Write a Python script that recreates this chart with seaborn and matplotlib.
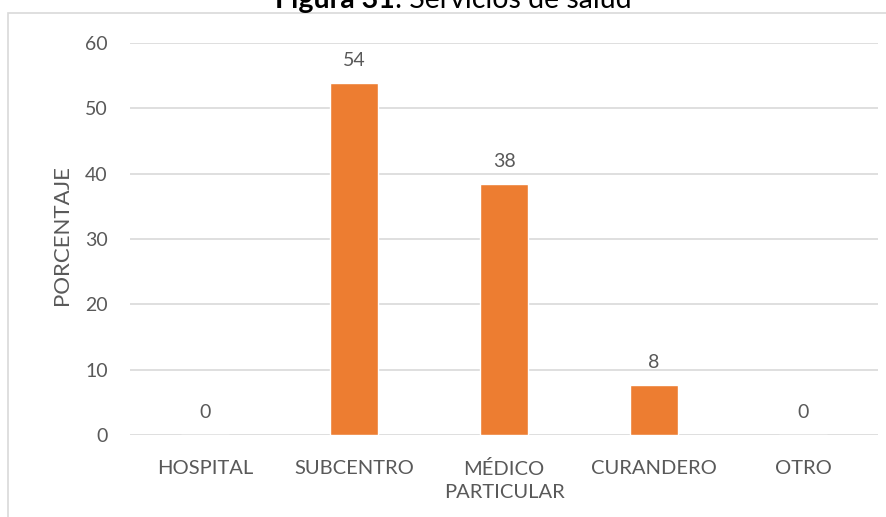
import matplotlib
matplotlib.use("Agg")
import matplotlib.pyplot as plt
from matplotlib.patches import Rectangle
import seaborn as sns
import pandas as pd

# Servicios de salud utilizados (porcentaje)
categorias = ["HOSPITAL", "SUBCENTRO", "MÉDICO\nPARTICULAR", "CURANDERO", "OTRO"]
porcentajes = [0.0, 53.85, 38.46, 7.69, 0.0]
y_ticks = [0, 10, 20, 30, 40, 50, 60]

df = pd.DataFrame({"servicio": categorias, "porcentaje": porcentajes})

sns.set_theme(style="white")
plt.rcParams["font.family"] = ["Lato", "DejaVu Sans"]

TEXT = "#595959"
GRID = "#D9D9D9"
BAR = "#ED7D31"

W, H = 886, 517
fig = plt.figure(figsize=(W / 100, H / 100), dpi=100)
ax = fig.add_axes([130 / W, 82 / H, 748 / W, 392 / H])

sns.barplot(data=df, x="servicio", y="porcentaje", color=BAR, width=0.32,
            saturation=1, ax=ax, zorder=3)

ax.set_ylim(0, 60)
ax.set_xlim(-0.5, len(categorias) - 0.5)
ax.set_yticks(y_ticks)
ax.set_yticklabels([str(t) for t in y_ticks])
ax.yaxis.grid(True, color=GRID, linewidth=1.2, zorder=0)
ax.set_axisbelow(True)
for s in ax.spines.values():
    s.set_visible(False)
ax.tick_params(axis="both", length=0, colors=TEXT)
ax.tick_params(axis="y", pad=16, labelsize=14)
ax.tick_params(axis="x", pad=18, labelsize=14.5)
for lab in ax.get_xticklabels():
    lab.set_linespacing(1.45)

ax.set_xlabel("")
ax.set_ylabel("PORCENTAJE", color=TEXT, fontsize=16, labelpad=6)
ax.yaxis.set_label_coords(-0.077, 0.51)

for cont in ax.containers:
    ax.bar_label(cont, labels=[f"{v:.0f}" for v in cont.datavalues],
                 padding=10, color=TEXT, fontsize=14)

# Marco del gráfico
fig.patches.append(Rectangle((8 / W, -0.1), 1.2, (H - 13) / H + 0.1,
                             transform=fig.transFigure, fill=False,
                             edgecolor=GRID, linewidth=1.2))

# Título
fig.text(275 / W, 1 - 8 / H, "Figura 31", fontsize=20.5, fontweight="bold",
         color="black", ha="left", va="baseline")
fig.canvas.draw()
r = fig.texts[0].get_window_extent()
fig.text(r.x1 / W, 1 - 8 / H, ": Servicios de salud", fontsize=20.5,
         color="black", ha="left", va="baseline")

fig.savefig("out.png", dpi=100)
